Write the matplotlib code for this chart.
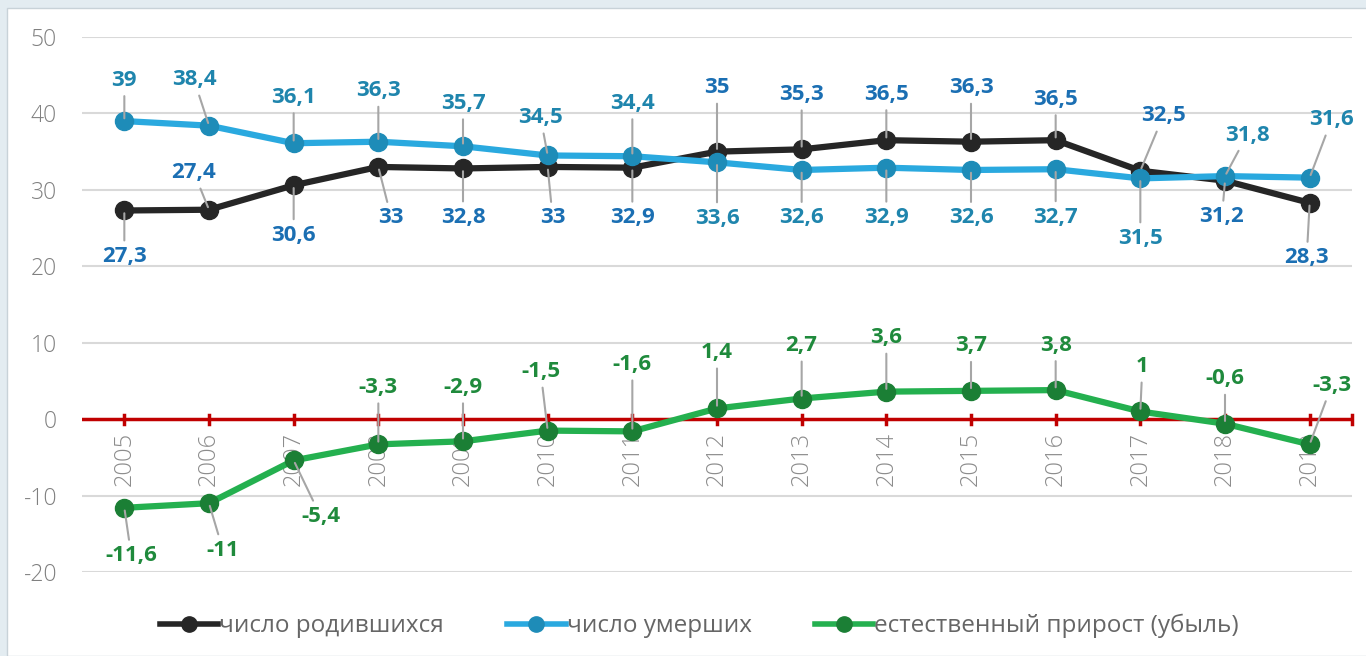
import numpy as np
import matplotlib.pyplot as plt
from matplotlib.patches import Rectangle
from matplotlib.lines import Line2D

plt.rcParams['font.family'] = ['Open Sans', 'DejaVu Sans']

# Данные (на 1000 населения)
years = list(range(2005, 2020))
births = [27.3, 27.4, 30.6, 33, 32.8, 33, 32.9, 35, 35.3, 36.5, 36.3, 36.5, 32.5, 31.2, 28.3]
deaths = [39, 38.4, 36.1, 36.3, 35.7, 34.5, 34.4, 33.6, 32.6, 32.9, 32.6, 32.7, 31.5, 31.8, 31.6]
growth = [-11.6, -11, -5.4, -3.3, -2.9, -1.5, -1.6, 1.4, 2.7, 3.6, 3.7, 3.8, 1, -0.6, -3.3]
y_ticks = [-20, -10, 0, 10, 20, 30, 40, 50]
legend_labels = ['число родившихся', 'число умерших', 'естественный прирост (убыль)']

# Смещения подписей (пиксели)
births_off = [(0, -46), (-15, 37), (0, -50), (13, -51), (0, -49), (5, -51), (0, -50),
              (0, 64), (0, 55), (0, 46), (0, 54), (0, 41), (23, 55), (-3, -36), (-3, -55)]
deaths_off = [(0, 41), (-15, 46), (0, 46), (0, 51), (0, 43), (-7, 38), (0, 53),
              (0, -56), (0, -48), (0, -50), (0, -48), (0, -48), (0, -60), (22, 41), (22, 58)]
growth_off = [(7, -48), (14, -47), (27, -56), (0, 57), (0, 54), (-7, 59), (0, 67),
              (0, 56), (0, 53), (0, 54), (0, 45), (0, 45), (2, 45), (0, 45), (22, 59)]

fig = plt.figure(figsize=(13.66, 6.56), dpi=100)
fig.patch.set_facecolor('#e3ecf1')
fig.patches.append(Rectangle((7 / 1366, 0), 1, 1 - 8 / 656, transform=fig.transFigure,
                             facecolor='white', edgecolor='#c8d2d8', lw=1, zorder=-10))

ax = fig.add_axes([82 / 1366, 1 - 572 / 656, (1352 - 82) / 1366, (572 - 37) / 656])
ax.set_facecolor('none')
x = np.arange(len(years))
ax.set_xlim(-0.5, len(years) - 0.5)
ax.set_ylim(-20, 50)

for t in y_ticks:
    if t != 0:
        ax.axhline(t, color='#d9d9d9', lw=1.5, zorder=1)
ax.axhline(0, color='#c00000', lw=2.5, zorder=2)
for xi in list(x) + [len(years) - 0.5]:
    ax.plot([xi, xi], [-0.6, 0.6], color='#c00000', lw=2.5, zorder=2, clip_on=False)

for s in ax.spines.values():
    s.set_visible(False)
ax.set_yticks(y_ticks)
ax.set_yticklabels([str(t) for t in y_ticks], color='#808080', fontsize=16.5, fontweight='light')
ax.tick_params(axis='y', length=0, pad=18)
ax.set_xticks([])

for xi, yr in zip(x, years):
    ax.annotate(str(yr), (xi, 0), xytext=(0, -13), textcoords='offset pixels',
                rotation=90, ha='center', va='top', fontsize=17, fontweight='light',
                color='#8c8c8c', zorder=3)

series = [
    (births, '#262626', '#262626', '#1b6fb3', births_off),
    (deaths, '#2aa9df', '#1e8cb8', '#1f85ad', deaths_off),
    (growth, '#24b04f', '#1b7f35', '#1f8a3c', growth_off),
]
handles = []
for vals, lc, mc, tc, offs in series:
    ax.plot(x, vals, color=lc, lw=4.5, marker='o', ms=13, mfc=mc, mec=mc, zorder=4)
    handles.append(Line2D([], [], color=lc, lw=4, marker='o', ms=11, mfc=mc, mec=mc))
    for xi, v, (dx, dy) in zip(x, vals, offs):
        txt = ('%g' % v).replace('.', ',')
        ax.annotate(txt, (xi, v), xytext=(dx, dy), textcoords='offset pixels',
                    ha='center', va='center', fontsize=16, fontweight='bold', color=tc,
                    annotation_clip=False, zorder=5,
                    arrowprops=dict(arrowstyle='-', color='#a6a6a6', lw=1.5,
                                    shrinkA=2, shrinkB=2))

fig.legend(handles, legend_labels, loc='center', bbox_to_anchor=(0.512, 1 - 626 / 656),
           ncol=3, frameon=False, fontsize=17.5, handlelength=2.4, columnspacing=2.6,
           handletextpad=0.05, labelcolor='#666666')

fig.savefig('out.png', dpi=100, facecolor=fig.get_facecolor())
